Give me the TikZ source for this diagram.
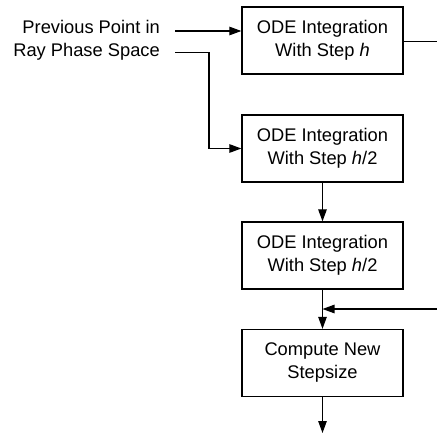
\documentclass[tikz,border=0pt]{standalone}
\usepackage{fontspec}
\setmainfont{Liberation Sans}
\usetikzlibrary{arrows.meta,calc}
\begin{document}
\begin{tikzpicture}[x=1pt,y=1pt,
  box/.style={draw,line width=1.3pt,minimum width=161pt,minimum height=67pt,inner sep=0pt,align=center,font=\fontsize{18.3}{23}\selectfont},
  lbl/.style={anchor=base east,inner sep=0pt,font=\fontsize{18.3}{23}\selectfont},
  conn/.style={line width=1.2pt},
  tip/.tip={Triangle[length=12pt,width=8.5pt]},
  arr/.style={conn,-tip}]
\useasboundingbox (0,0) rectangle (437,-434);
\node[box] (b1) at (322.5,-40.5) {ODE Integration\\With Step \textit{h}};
\node[box] (b2) at (322.5,-148.5) {ODE Integration\\With Step \textit{h}/2};
\node[box] (b3) at (322.5,-255.5) {ODE Integration\\With Step \textit{h}/2};
\node[box] (b4) at (322.5,-363) {Compute New\\Stepsize};
\node[lbl] (p1) at (160,-33.5) {Previous Point in};
\node[lbl] (p2) at (160,-56.5) {Ray Phase Space};
\coordinate (s1) at (175,-31);
\coordinate (s2) at (175,-52.5);
\coordinate (k2) at (209,-52.5);
\coordinate (out1) at (437,-41.5);
\coordinate (in4) at (437,-309);
\coordinate (j) at (322.5,-309);
\coordinate (bot) at (322.5,-433);
\draw[arr] (s1) -- (s1 -| b1.west);
\draw[arr] (s2) -- (k2) |- (b2.west);
\draw[conn] (b1.east |- out1) -- (out1);
\draw[arr] (b2.south) -- (b3.north);
\draw[arr] (b3.south) -- (b4.north);
\draw[arr] (in4) -- (j);
\draw[arr] (b4.south) -- (bot);
\end{tikzpicture}
\end{document}
